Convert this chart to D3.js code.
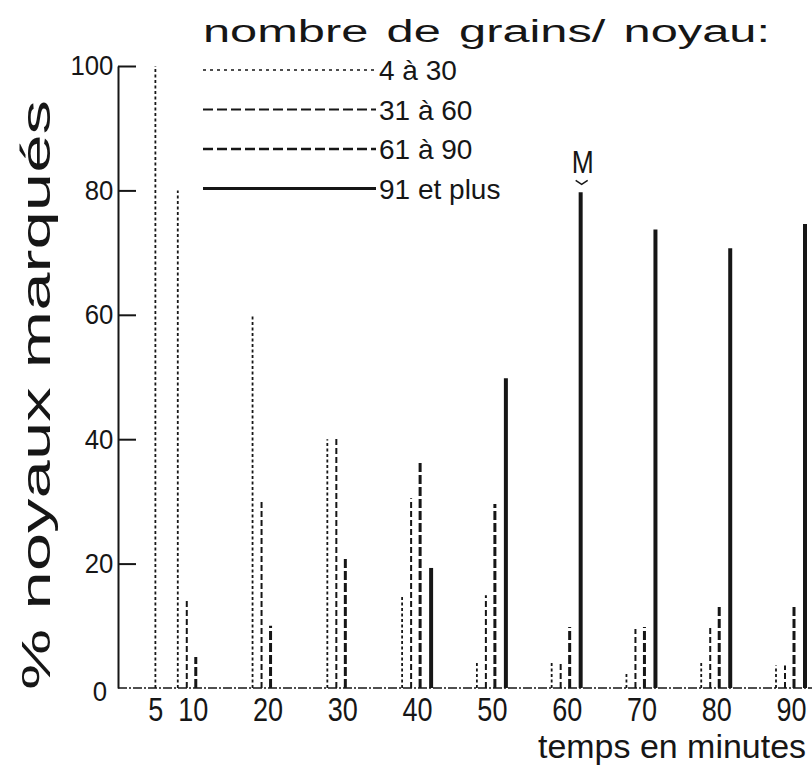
<!DOCTYPE html>
<html>
<head>
<meta charset="utf-8">
<script src="https://cdn.jsdelivr.net/npm/d3@7"></script>
<style>
  html, body { margin: 0; padding: 0; background: #fff; }
  svg { display: block; }
  text { font-family: "Liberation Sans", Arial, sans-serif; fill: #161616; }
</style>
</head>
<body>
<script>
// ---- data ----
const times = [5, 10, 20, 30, 40, 50, 60, 70, 80, 90];
const grains4to30  = [100, 80, 60, 40, 15, 4.3, 4.3, 2.4, 4.3, 3.6];
const grains31to60 = [0, 14, 30, 40.5, 30.5, 14.9, 4.3, 9.5, 10, 3.6];
const grains61to90 = [0, 5, 10, 21, 36.5, 29.6, 9.8, 9.8, 13.5, 13.1];
const grains91plus = [0, 0, 0, 0, 19.3, 49.8, 79.7, 73.7, 70.7, 74.6];
const seriesLabels = ["4 à 30", "31 à 60", "61 à 90", "91 et plus"];
const yTicks = [0, 20, 40, 60, 80, 100];
const xTicks = [5, 10, 20, 30, 40, 50, 60, 70, 80, 90];
const titleText = "nombre de grains/ noyau:";
const yLabel = "% noyaux marqués";
const xLabel = "temps en minutes";
const markLabel = "M";
const markTime = 60;

const series = [grains4to30, grains31to60, grains61to90, grains91plus];

// ---- styles ----
const ink = "#161616";
const styles = [
  { w: 1.8, dash: "3,2.5" },
  { w: 2.0, dash: "6,3" },
  { w: 3.0, dash: "9,3" },
  { w: 4.0, dash: null }
];
const legendStyles = [
  { w: 1.4, dash: "3,4" },
  { w: 1.8, dash: "10,4" },
  { w: 2.6, dash: "10,4" },
  { w: 3.2, dash: null }
];
const offsets = [-15, -6, 3, 14];

const W = 812, H = 771;
const svg = d3.select("body").append("svg").attr("width", W).attr("height", H);
svg.append("rect").attr("width", W).attr("height", H).attr("fill", "#fff");

const x = d3.scaleLinear().domain([0, 90]).range([118, 791]);
const y = d3.scaleLinear().domain([0, 100]).range([688, 66]);

// baseline (x axis)
svg.append("line")
  .attr("x1", x(0)).attr("x2", W)
  .attr("y1", y(0)).attr("y2", y(0))
  .attr("stroke", ink).attr("stroke-width", 1.5)
  .attr("stroke-dasharray", "9,2,2,2");

// x tick labels
const xAxis = svg.append("g")
  .attr("transform", `translate(0,${y(0)})`)
  .call(d3.axisBottom(x).tickValues(xTicks).tickSize(0).tickPadding(10).tickFormat(d3.format("d")));
xAxis.select(".domain").remove();
xAxis.selectAll("text")
  .style("font-size", "33px")
  .attr("fill", ink)
  .attr("transform", "scale(0.82,1)");

// y axis
const yAxis = svg.append("g")
  .attr("transform", `translate(${x(0)},0)`)
  .call(d3.axisLeft(y).tickValues(yTicks).tickSizeInner(-18).tickSizeOuter(0).tickPadding(5).tickFormat(d3.format("d")));
yAxis.select(".domain").attr("stroke", ink).attr("stroke-width", 2);
yAxis.selectAll(".tick line").attr("stroke", ink).attr("stroke-width", 2)
  .filter(d => d === 0).remove();
yAxis.selectAll("text").style("font-size", "28px").attr("fill", ink)
  .attr("transform", "scale(0.92,1)");
yAxis.selectAll(".tick").filter(d => d === 0).select("text")
  .attr("x", -12).attr("dy", "0.45em");

// vertical lines
times.forEach((t, i) => {
  const present = series.map(s => s[i] > 0);
  const nPresent = present.filter(Boolean).length;
  series.forEach((s, k) => {
    const v = s[i];
    if (!(v > 0)) return;
    const xx = x(t) + (nPresent > 1 ? offsets[k] : 0);
    const ln = svg.append("line")
      .attr("x1", xx).attr("x2", xx)
      .attr("y1", y(0)).attr("y2", y(v))
      .attr("stroke", ink).attr("stroke-width", styles[k].w);
    if (styles[k].dash) ln.attr("stroke-dasharray", styles[k].dash);
  });
});

// M mark
{
  const i = times.indexOf(markTime);
  const mx = x(markTime) + offsets[3];
  const my = y(grains91plus[i]);
  svg.append("text").attr("x", mx + 2).attr("y", my - 19)
    .attr("text-anchor", "middle").style("font-size", "32px")
    .attr("textLength", 22).attr("lengthAdjust", "spacingAndGlyphs")
    .text(markLabel);
  svg.append("path")
    .attr("d", `M${mx - 5},${my - 12} L${mx + 1},${my - 8} L${mx + 7},${my - 12}`)
    .attr("fill", "none").attr("stroke", ink).attr("stroke-width", 1.5);
}

// title
svg.append("text").attr("x", 203).attr("y", 42)
  .style("font-size", "31px")
  .style("word-spacing", "3px")
  .attr("textLength", 567).attr("lengthAdjust", "spacingAndGlyphs")
  .text(titleText);

// legend
seriesLabels.forEach((lab, k) => {
  const ly = 70 + 39.5 * k;
  const ln = svg.append("line")
    .attr("x1", 203).attr("x2", 376).attr("y1", ly).attr("y2", ly)
    .attr("stroke", ink).attr("stroke-width", legendStyles[k].w);
  if (legendStyles[k].dash) ln.attr("stroke-dasharray", legendStyles[k].dash);
  svg.append("text").attr("x", 379).attr("y", ly + 10)
    .style("font-size", "28px").text(lab);
});

// y label
svg.append("text")
  .attr("transform", "translate(50,395) rotate(-90)")
  .attr("text-anchor", "middle")
  .style("font-size", "41px")
  .attr("fill", "#2a2a2a")
  .attr("textLength", 590).attr("lengthAdjust", "spacingAndGlyphs")
  .text(yLabel);

// x label
svg.append("text").attr("x", 538).attr("y", 758)
  .style("font-size", "34px")
  .attr("fill", "#2a2a2a")
  .attr("textLength", 268).attr("lengthAdjust", "spacingAndGlyphs")
  .text(xLabel);
</script>
</body>
</html>
